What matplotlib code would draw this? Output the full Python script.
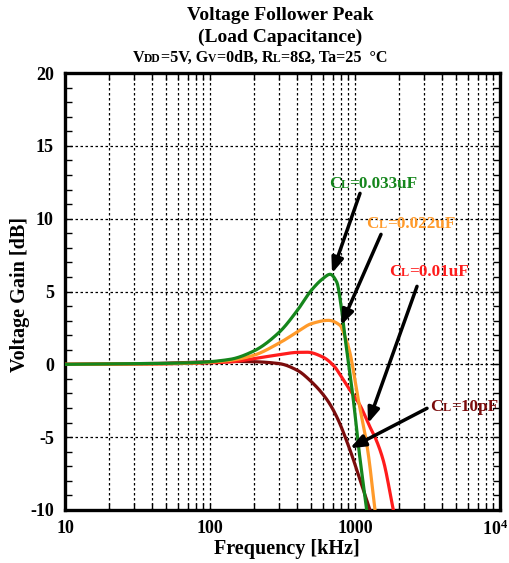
import numpy as np
import matplotlib
matplotlib.use("Agg")
import matplotlib.pyplot as plt
import matplotlib.transforms as mtransforms
from matplotlib.offsetbox import TextArea, HPacker, AnnotationBbox
from matplotlib.ticker import FixedLocator, NullFormatter

plt.rcParams['font.family'] = ['Liberation Serif', 'DejaVu Serif']
plt.rcParams['font.weight'] = 'bold'
plt.rcParams['mathtext.fontset'] = 'custom'
plt.rcParams['mathtext.rm'] = 'Liberation Serif:bold'
plt.rcParams['mathtext.bf'] = 'Liberation Serif:bold'
plt.rcParams['axes.unicode_minus'] = False

# ---- data (frequency kHz, gain dB) ----
f_033 = [10, 38, 80, 137, 200, 300, 400, 500, 600, 673, 748, 810, 853, 877, 975, 1056, 1204]
g_033 = [0, 0.05, 0.12, 0.34, 0.91, 2.2, 3.7, 5.08, 5.88, 6.18, 5.65, 3.7, 1.87, 0.96, -2.47, -5.6, -10]

f_022 = [10, 38, 80, 137, 200, 300, 400, 500, 655, 788, 853, 914, 1056, 1224, 1374]
g_022 = [0, 0.03, 0.1, 0.27, 0.62, 1.46, 2.22, 2.79, 3.02, 2.68, 1.9, 0.96, -2.47, -5.9, -10]

f_010 = [10, 38, 80, 137, 200, 300, 400, 470, 600, 720, 788, 900, 1081, 1268, 1374, 1567, 1837]
g_010 = [0, 0.02, 0.08, 0.16, 0.39, 0.66, 0.82, 0.83, 0.5, -0.14, -0.7, -1.6, -2.8, -4.3, -5.0, -6.6, -10]

f_10p = [10, 38, 137, 200, 300, 400, 489, 638, 748, 925, 1081, 1268]
g_10p = [0, 0.05, 0.2, 0.18, 0.05, -0.41, -1.1, -2.4, -3.6, -5.9, -7.9, -10]

series = [
    (f_10p, g_10p, '#7b0c0c'),
    (f_010, g_010, '#ff1c1c'),
    (f_022, g_022, '#ff9a2a'),
    (f_033, g_033, '#15861c'),
]

xticks = [10, 100, 1000, 10000]
xticklabels = ['10', '100', '1000', r'$\mathbf{10^4}$']
yticks = [-10, -5, 0, 5, 10, 15, 20]


def pchip(x, y, xs):
    x = np.asarray(x, float)
    y = np.asarray(y, float)
    h = np.diff(x)
    d = np.diff(y) / h
    n = len(x)
    m = np.zeros(n)
    for k in range(1, n - 1):
        if d[k-1] * d[k] <= 0:
            m[k] = 0
        else:
            w1 = 2*h[k] + h[k-1]
            w2 = h[k] + 2*h[k-1]
            m[k] = (w1 + w2) / (w1/d[k-1] + w2/d[k])
    m[0] = d[0]
    m[-1] = d[-1]
    idx = np.clip(np.searchsorted(x, xs) - 1, 0, n - 2)
    t = (xs - x[idx]) / h[idx]
    h00 = 2*t**3 - 3*t**2 + 1
    h10 = t**3 - 2*t**2 + t
    h01 = -2*t**3 + 3*t**2
    h11 = t**3 - t**2
    return h00*y[idx] + h10*h[idx]*m[idx] + h01*y[idx+1] + h11*h[idx]*m[idx+1]


fig = plt.figure(figsize=(5.10, 5.63), dpi=100)
ax = fig.add_axes([65/510, 53/563, 435/510, 437/563])

for f, g, c in series:
    lf = np.log10(np.asarray(f, float))
    xs = np.linspace(lf[0], lf[-1], 800)
    ys = pchip(lf, g, xs)
    ax.plot(10**xs, ys, color=c, lw=2.3, zorder=3)

ax.set_xscale('log')
ax.set_xlim(10, 10000)
ax.set_ylim(-10, 20)
ax.xaxis.set_major_locator(FixedLocator(xticks))
ax.set_xticklabels(xticklabels)
minors = [m * d for d in (10, 100, 1000) for m in range(2, 10)]
ax.xaxis.set_minor_locator(FixedLocator(minors))
ax.xaxis.set_minor_formatter(NullFormatter())
ax.yaxis.set_major_locator(FixedLocator(yticks))
ax.yaxis.set_minor_locator(FixedLocator(list(range(-10, 21))))

ax.grid(True, which='major', color='black', ls=(0, (2, 2)), lw=0.9)
ax.grid(True, which='minor', axis='x', color='black', ls=(0, (2, 2)), lw=0.9)
ax.tick_params(which='both', direction='in', top=True, right=True, labelsize=13)
ax.tick_params(which='major', length=5, width=1)
ax.tick_params(which='minor', length=5, width=1)
ax.tick_params(axis='x', pad=7)
ax.tick_params(axis='y', pad=8)
for lab in ax.get_xticklabels() + ax.get_yticklabels():
    lab.set_fontweight('bold')
lab4 = ax.get_xticklabels()[-1]
lab4.set_transform(lab4.get_transform() + mtransforms.ScaledTranslation(-5/100, 0, fig.dpi_scale_trans))
for s in ax.spines.values():
    s.set_linewidth(2.4)

fig.text(287/510, 1 - 549/563, 'Frequency [kHz]', ha='center', va='center', fontsize=14.5, fontweight='bold')
fig.text(20/510, 1 - 295/563, 'Voltage Gain [dB]', ha='center', va='center', rotation=90,
         fontsize=14.5, fontweight='bold')

# titles
fig.text(280/510, 1 - 15/563, 'Voltage Follower Peak', ha='center', va='center', fontsize=14, fontweight='bold')
fig.text(280/510, 1 - 37/563, '(Load Capacitance)', ha='center', va='center', fontsize=14, fontweight='bold')


def rich(parts, xy, coords, color='black', base=11.5):
    kids = []
    for txt, small in parts:
        kids.append(TextArea(txt, textprops=dict(size=base * (0.72 if small else 1.0), weight='bold',
                                                  color=color, family='Liberation Serif')))
    pack = HPacker(children=kids, align='baseline', pad=0, sep=0)
    ab = AnnotationBbox(pack, xy, xycoords=coords, frameon=False, box_alignment=(0.5, 0.5), pad=0,
                        annotation_clip=False)
    return ab


fig.add_artist(rich([('V', 0), ('DD', 1), ('=5V, G', 0), ('V', 1), ('=0dB, R', 0), ('L', 1),
                     ('=8Ω, Ta=25  °C', 0)], (260/510, 1 - 58/563), 'figure fraction', base=11.6))


def px(x, y):
    # reference pixel position -> data coords
    f = 10 ** (1 + (x - 65) / 145)
    g = (364 - y) / 14.57
    return f, g


labels = [
    ('0.033uF', '#15861c', (373, 184), (360, 193), (332, 273)),
    ('0.022uF', '#ff9a2a', (411, 224), (381, 234), (341, 325)),
    ('0.01uF', '#ff1c1c', (429, 272), (417, 286), (368, 423)),
    ('10pF', '#7b0c0c', (464, 407), (427, 408), (350, 448)),
]
for val, c, tpos, tail, head in labels:
    ax.add_artist(rich([('C', 0), ('L', 1), ('=' + val, 0)], px(*tpos), 'data', color=c, base=12.3))
    ax.annotate('', xy=px(*head), xytext=px(*tail), xycoords='data', textcoords='data',
                arrowprops=dict(arrowstyle='-|>,head_length=0.9,head_width=0.35', color='black', lw=2.5,
                                shrinkA=0, shrinkB=0), zorder=5)

fig.savefig('out.png', dpi=100)
